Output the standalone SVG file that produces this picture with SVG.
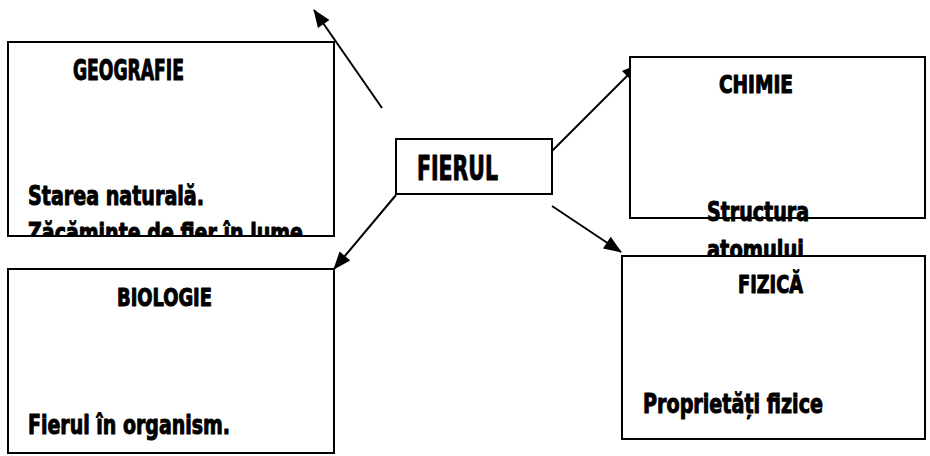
<svg xmlns="http://www.w3.org/2000/svg" width="930" height="456" viewBox="0 0 930 456">
<style>
.box{fill:#fff;stroke:#000;stroke-width:2}
.t{font-family:"Liberation Sans Narrow","DejaVu Sans Condensed","Liberation Sans",sans-serif;font-weight:bold;fill:#000;stroke:#000;stroke-width:1;stroke-linejoin:round}
.c{stroke:#000;stroke-width:2;fill:none;marker-end:url(#ah)}
</style>
<defs>
<marker id="ah" viewBox="0 0 18 14" refX="17" refY="7" markerWidth="18" markerHeight="14" markerUnits="userSpaceOnUse" orient="auto" overflow="visible">
<path d="M0,0 L18,7 L0,14 z" fill="#000"/>
</marker>
<clipPath id="cg"><rect x="8" y="42" width="326" height="194"/></clipPath>
</defs>
<g id="connectors">
<line class="c" x1="382" y1="108" x2="314" y2="10"/>
<line class="c" x1="552" y1="151" x2="639" y2="64"/>
<line class="c" x1="552" y1="206" x2="621" y2="252"/>
<line class="c" x1="396" y1="195" x2="334" y2="269"/>
</g>
<g id="geografie">
<rect class="box" x="8" y="42" width="326" height="194"/>
<text class="t" x="73" y="80" font-size="28" textLength="111" lengthAdjust="spacingAndGlyphs">GEOGRAFIE</text>
<text class="t" x="28" y="205" font-size="27" textLength="176" lengthAdjust="spacingAndGlyphs">Starea naturală.</text>
<g clip-path="url(#cg)"><text class="t" x="28" y="242" font-size="27" textLength="275" lengthAdjust="spacingAndGlyphs">Zăcăminte de fier în lume</text></g>
<rect x="8" y="42" width="326" height="194" fill="none" stroke="#000" stroke-width="2"/>
</g>
<g id="fierul">
<rect class="box" x="396" y="139" width="156" height="55"/>
<text class="t" x="417" y="180" font-size="34" textLength="81" lengthAdjust="spacingAndGlyphs">FIERUL</text>
</g>
<g id="chimie">
<rect class="box" x="630" y="57" width="295" height="161"/>
<text class="t" x="719" y="93" font-size="24" textLength="74" lengthAdjust="spacingAndGlyphs">CHIMIE</text>
<text class="t" x="707" y="221" font-size="27" textLength="102" lengthAdjust="spacingAndGlyphs">Structura</text>
<text class="t" x="707" y="259" font-size="27" textLength="97" lengthAdjust="spacingAndGlyphs">atomului</text>
</g>
<g id="fizica">
<rect class="box" x="622" y="256" width="303" height="183"/>
<text class="t" x="738" y="293" font-size="24" textLength="65" lengthAdjust="spacingAndGlyphs">FIZICĂ</text>
<text class="t" x="643" y="413" font-size="27" textLength="180" lengthAdjust="spacingAndGlyphs">Proprietăți fizice</text>
</g>
<g id="biologie">
<rect class="box" x="8" y="269" width="326" height="184"/>
<text class="t" x="117" y="306" font-size="25" textLength="95" lengthAdjust="spacingAndGlyphs">BIOLOGIE</text>
<text class="t" x="28" y="434" font-size="27" textLength="202" lengthAdjust="spacingAndGlyphs">Fierul în organism.</text>
</g>
</svg>
